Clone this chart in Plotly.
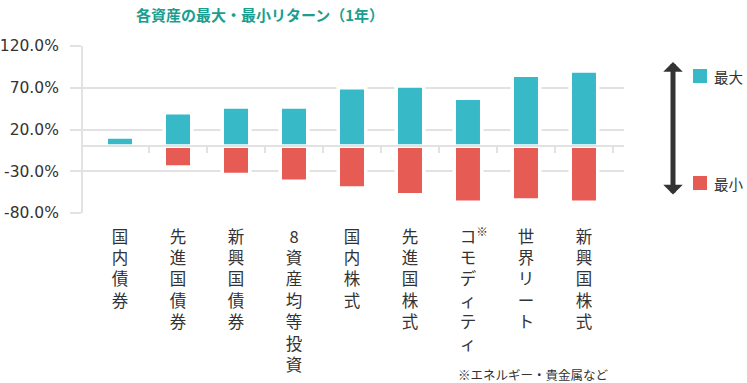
import plotly.graph_objects as go

categories = ["国内債券", "先進国債券", "新興国債券", "8資産均等投資", "国内株式",
              "先進国株式", "コモディティ", "世界リート", "新興国株式"]
footnote_mark = {"コモディティ": "※"}
max_returns = [11.0, 40.0, 47.0, 47.0, 70.0, 72.0, 57.5, 85.0, 90.0]
min_returns = [-1.0, -25.0, -34.0, -42.0, -50.0, -58.0, -67.0, -64.5, -67.0]
y_ticks = [-80, -30, 20, 70, 120]
y_tick_labels = [f"{v:.1f}%" for v in y_ticks]
series_names = ["最大", "最小"]
title_text = "各資産の最大・最小リターン（1年）"
note_text = "※エネルギー・貴金属など"

TEAL = "#37b9c8"
RED = "#e65b54"
GRID = "#e2e2e2"
TEXT = "#333333"
FONT = "Noto Sans CJK JP"

W, H = 747, 383
L, R, T, B = 83, 123, 46, 170
PW, PH = W - L - R, H - T - B

def px_x(x):
    return (x - L) / PW

def px_y(y):
    return (H - B - y) / PH

def vertical(label):
    chars = list(label)
    if label in footnote_mark:
        chars[0] = "<sup>　</sup>" + chars[0] + "<sup>" + footnote_mark[label] + "</sup>"
    return "<br>".join(chars)

xs = list(range(len(categories)))
ticktext = [vertical(c) for c in categories]

fig = go.Figure()
fig.add_trace(go.Bar(x=xs, y=max_returns, name=series_names[0],
                     marker=dict(color=TEAL, line=dict(color="white", width=3.5)),
                     width=0.474, showlegend=False))
fig.add_trace(go.Bar(x=xs, y=min_returns, name=series_names[1],
                     marker=dict(color=RED, line=dict(color="white", width=3.5)),
                     width=0.474, showlegend=False))
# invisible trace to anchor the zero-axis overlay
fig.add_trace(go.Scatter(x=[None], y=[None], xaxis="x2", showlegend=False, hoverinfo="skip"))

xr = [-0.638, 8.69]
ymin, ymax = -80, 120

fig.update_layout(
    width=W, height=H,
    margin=dict(l=L, r=R, t=T, b=B, autoexpand=False),
    paper_bgcolor="white", plot_bgcolor="white",
    barmode="overlay", showlegend=False,
    font=dict(family=FONT, color=TEXT, size=14),
    title=dict(text="<b>" + title_text + "</b>", x=260 / W, xanchor="center", xref="container",
               y=1 - 16 / H, yanchor="middle", yref="container",
               font=dict(family=FONT, size=15, color="#1a9e90")),
    xaxis=dict(range=xr, tickmode="array", tickvals=xs, ticktext=ticktext, showgrid=False,
               zeroline=False, showline=False, ticks="", ticklabelstandoff=12, automargin=False,
               tickfont=dict(family=FONT, size=16.5, color=TEXT), fixedrange=True),
    xaxis2=dict(range=xr, overlaying="x", anchor="free", position=(0 - ymin) / (ymax - ymin),
                tickmode="array", tickvals=[i + 0.5 for i in xs], showticklabels=False,
                ticks="outside", ticklen=6, tickwidth=2, tickcolor=GRID,
                showline=True, linecolor=GRID, linewidth=2, showgrid=False, zeroline=False,
                layer="above traces"),
    yaxis=dict(range=[ymin, ymax], tickmode="array", tickvals=y_ticks, ticktext=y_tick_labels,
               showgrid=True, gridcolor=GRID, gridwidth=2, zeroline=False, automargin=False,
               showline=True, linecolor=GRID, linewidth=2,
               ticks="outside", ticklen=11, tickwidth=2, tickcolor=GRID, ticklabelstandoff=8,
               tickfont=dict(family="DejaVu Sans", size=15.5, color=TEXT)),
)

# legend keys (manual, to match spacing)
for name, color, cy in [(series_names[0], TEAL, 76), (series_names[1], RED, 183)]:
    fig.add_shape(type="rect", xref="paper", yref="paper",
                  x0=px_x(693), x1=px_x(707), y0=px_y(cy + 7), y1=px_y(cy - 7),
                  fillcolor=color, line=dict(width=0))
    fig.add_annotation(x=px_x(712), y=px_y(cy), xref="paper", yref="paper", text=name,
                       showarrow=False, xanchor="left", yanchor="middle",
                       font=dict(family=FONT, size=14.5, color=TEXT))

fig.add_annotation(x=px_x(673), y=px_y(62), xref="paper", yref="paper",
                   ax=0, ay=196 - 62, axref="pixel", ayref="pixel", text="",
                   showarrow=True, arrowhead=1, startarrowhead=1, arrowside="end+start",
                   arrowwidth=5, arrowsize=0.65, startarrowsize=0.65, arrowcolor="#333333",
                   standoff=0, startstandoff=0)
fig.add_annotation(x=px_x(533), y=px_y(374), xref="paper", yref="paper",
                   text=note_text, showarrow=False, xanchor="center", yanchor="middle",
                   font=dict(family=FONT, size=12.5, color=TEXT))

fig.write_html("out.html", config={"displayModeBar": False},
               post_script="document.body.style.margin='0px';")
